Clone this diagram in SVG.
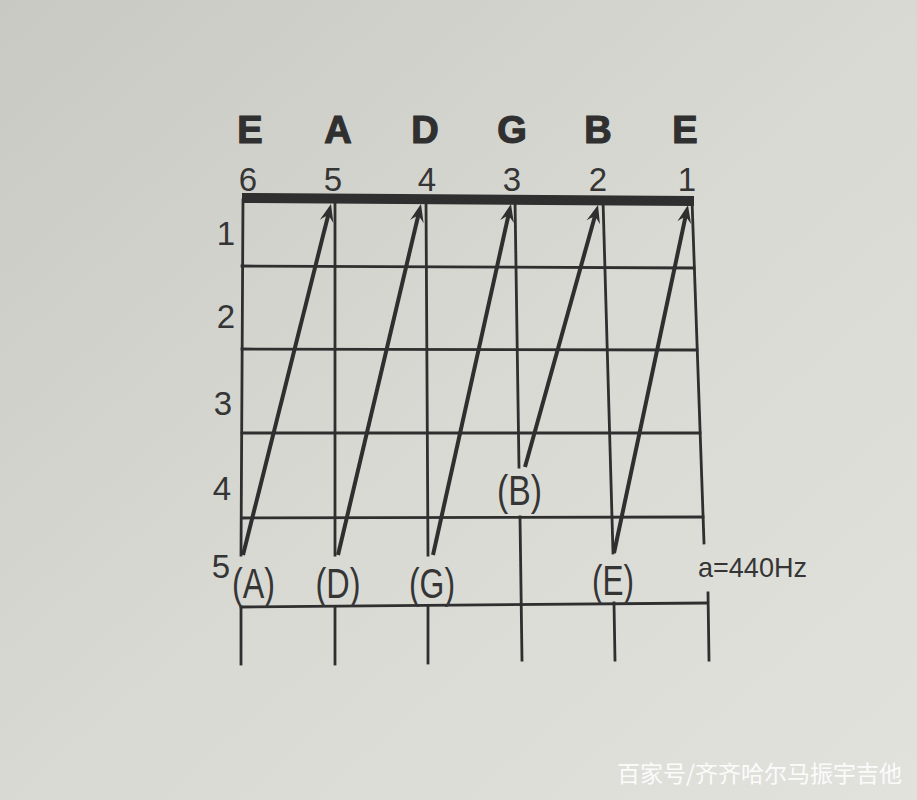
<svg xmlns="http://www.w3.org/2000/svg" width="917" height="800" viewBox="0 0 917 800">
<defs>
<linearGradient id="paper" x1="0" y1="0" x2="1" y2="1">
<stop offset="0" stop-color="#c9c9c4"/>
<stop offset="0.5" stop-color="#d9d9d4"/>
<stop offset="1" stop-color="#e2e2dd"/>
</linearGradient>
<marker id="head" viewBox="-20 -12 34 24" refX="0" refY="0" markerWidth="34" markerHeight="24" markerUnits="userSpaceOnUse" orient="auto" overflow="visible">
<path d="M9,0 L-9,-7 Q-4,-2 -3,0 Q-4,2 -9,7 Z" fill="#2f2f2f"/>
</marker>
<style>
.g{stroke:#2f2f2f;stroke-width:2.8;fill:none;stroke-linecap:square}
.a{stroke:#2f2f2f;stroke-width:4;fill:none;marker-end:url(#head)}
.s{font-family:"Liberation Sans",Arial,sans-serif;font-weight:bold;font-size:38px;fill:#303030;stroke:#303030;stroke-width:1.2;text-anchor:middle}
.n{font-family:"Liberation Sans",Arial,sans-serif;font-size:33px;fill:#353535;text-anchor:middle}
.p{font-family:"Liberation Sans",Arial,sans-serif;font-size:42px;fill:#353535;text-anchor:middle}
.hz{font-family:"Liberation Sans",Arial,sans-serif;font-size:28px;fill:#353535}
.wm{font-family:"Noto Sans CJK SC","Liberation Sans",sans-serif;font-size:23px;fill:#ffffff;fill-opacity:0.9}
</style>
</defs>
<rect x="0" y="0" width="917" height="800" fill="url(#paper)"/>

<g id="grid">
<polygon points="242,193 694,196 694,206 242,203" fill="#2f2f2f"/>
<line class="g" x1="242" y1="266" x2="694" y2="268"/>
<line class="g" x1="242" y1="349" x2="697" y2="350"/>
<line class="g" x1="242" y1="433" x2="700" y2="433"/>
<line class="g" x1="242" y1="518" x2="703" y2="517"/>
<line class="g" x1="241" y1="607" x2="707" y2="603"/>
<line class="g" x1="243" y1="200" x2="241" y2="555"/>
<line class="g" x1="241" y1="607" x2="241" y2="664"/>
<line class="g" x1="335" y1="200" x2="335" y2="555"/>
<line class="g" x1="335" y1="607" x2="335" y2="664"/>
<line class="g" x1="426" y1="200" x2="428" y2="555"/>
<line class="g" x1="428" y1="606" x2="428" y2="663"/>
<line class="g" x1="515" y1="200" x2="519" y2="467"/>
<line class="g" x1="520" y1="517" x2="522" y2="660"/>
<line class="g" x1="603" y1="200" x2="613" y2="553"/>
<line class="g" x1="614" y1="603" x2="615" y2="660"/>
<line class="g" x1="692" y1="200" x2="704" y2="543"/>
<line class="g" x1="708" y1="593" x2="709" y2="660"/>
</g>

<g id="connectors">
<line class="a" x1="243" y1="555" x2="328.8" y2="212.7"/>
<line class="a" x1="338" y1="555" x2="418.9" y2="212.8"/>
<line class="a" x1="433" y1="555" x2="509" y2="212.8"/>
<line class="a" x1="525" y1="467" x2="595.6" y2="213.7"/>
<line class="a" x1="614" y1="553" x2="686.1" y2="213.8"/>
</g>

<g id="string-names">
<text class="s" x="250" y="143">E</text>
<text class="s" x="338" y="143">A</text>
<text class="s" x="425" y="143">D</text>
<text class="s" x="512" y="143">G</text>
<text class="s" x="598" y="143">B</text>
<text class="s" x="685" y="143">E</text>
</g>

<g id="string-numbers">
<text class="n" x="248" y="191">6</text>
<text class="n" x="333" y="191">5</text>
<text class="n" x="427" y="191">4</text>
<text class="n" x="512" y="191">3</text>
<text class="n" x="598" y="191">2</text>
<text class="n" x="687" y="191">1</text>
</g>

<g id="fret-numbers">
<text class="n" x="226" y="245">1</text>
<text class="n" x="226" y="328">2</text>
<text class="n" x="223" y="415">3</text>
<text class="n" x="222" y="500">4</text>
<text class="n" x="221" y="578">5</text>
</g>

<g id="note-A"><text class="p" x="253.5" y="598" textLength="43" lengthAdjust="spacingAndGlyphs">(A)</text></g>
<g id="note-D"><text class="p" x="338" y="598" textLength="45" lengthAdjust="spacingAndGlyphs">(D)</text></g>
<g id="note-G"><text class="p" x="432" y="598" textLength="46" lengthAdjust="spacingAndGlyphs">(G)</text></g>
<g id="note-B"><text class="p" x="519.5" y="505" textLength="45" lengthAdjust="spacingAndGlyphs">(B)</text></g>
<g id="note-E"><text class="p" x="613" y="595" textLength="42" lengthAdjust="spacingAndGlyphs">(E)</text></g>

<g id="pitch"><text class="hz" x="698" y="577" textLength="109" lengthAdjust="spacingAndGlyphs">a=440Hz</text></g>

<text class="wm" x="617" y="782" textLength="285" lengthAdjust="spacingAndGlyphs">百家号/齐齐哈尔马振宇吉他</text>
</svg>
